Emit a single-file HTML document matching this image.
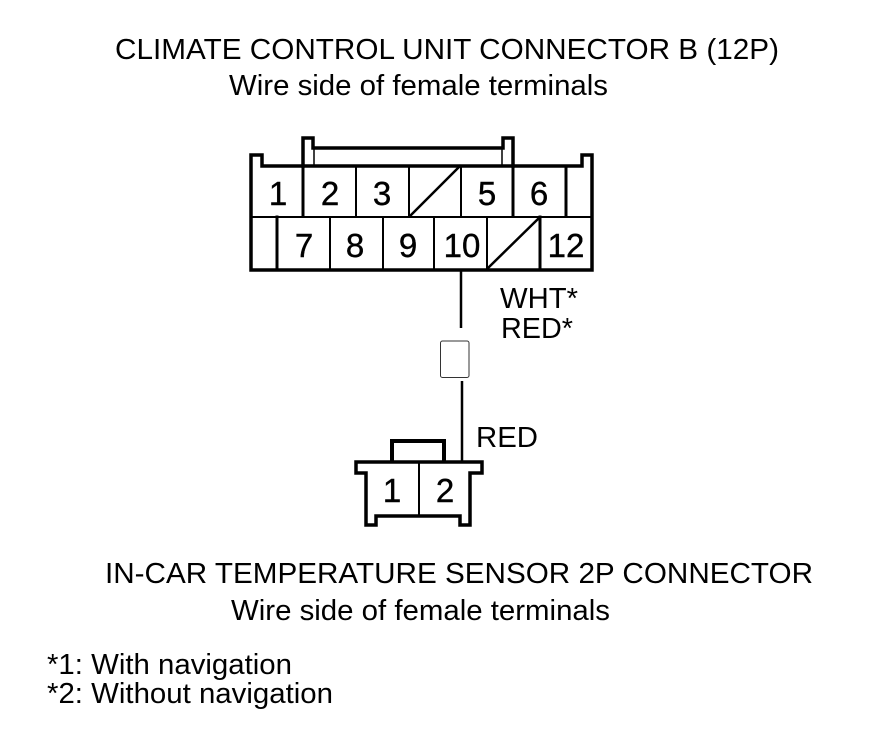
<!DOCTYPE html>
<html>
<head>
<meta charset="utf-8">
<style>
html,body{margin:0;padding:0;background:#fff;width:880px;height:736px;overflow:hidden}
svg{display:block}
text{font-family:"Liberation Sans",Arial,sans-serif;fill:#000}
</style>
</head>
<body>
<svg width="880" height="736" viewBox="0 0 880 736" xmlns="http://www.w3.org/2000/svg">
<g fill="none" stroke="#000" stroke-linecap="square">
  <!-- top connector outline -->
  <path d="M251 155H262V166H582V155H592V270H251Z" stroke-width="3.500"/>
  <path d="M303 166V138H313V148H503V138H513V166" stroke-width="3.500"/>
  <path d="M314 150V165M502 150V165" stroke-width="1.500"/>
  <path d="M252 217H591" stroke-width="2"/>
  <path d="M303 166V216M513 166V216" stroke-width="3"/>
  <path d="M356 166V216M409 166V216M461 166V216" stroke-width="2"/>
  <path d="M566 166V216" stroke-width="3"/>
  <path d="M277 217V268" stroke-width="3"/>
  <path d="M330 217V268M383 217V268M434 217V268M487 217V268" stroke-width="2"/>
  <path d="M540 217V268" stroke-width="3"/>
  <path d="M410 216L460 166M488 268L539 218" stroke-width="2.500"/>
  <!-- wire -->
  <path d="M461 270V328" stroke-width="2.500" stroke-linecap="butt"/>
  <rect x="440.500" y="341" width="28.500" height="36.500" rx="2" stroke="#333" stroke-width="1"/>
  <path d="M462 381V461" stroke-width="2.500" stroke-linecap="butt"/>
  <!-- bottom connector -->
  <path d="M392 461V441H444V461" stroke-width="4"/>
  <path d="M356 462H482V473H470V525H460V516H376V525H366V473H356Z" stroke-width="3.500"/>
  <path d="M419 462V515" stroke-width="2"/>
</g>
<g font-size="33" text-anchor="middle" stroke="#000" stroke-width="0.400">
  <text x="278" y="205">1</text>
  <text x="330" y="205">2</text>
  <text x="382" y="205">3</text>
  <text x="487" y="205">5</text>
  <text x="539" y="205">6</text>
  <text x="304" y="257">7</text>
  <text x="355" y="257">8</text>
  <text x="408" y="257">9</text>
  <text x="462" y="257">10</text>
  <text x="566" y="257">12</text>
  <text x="392" y="502">1</text>
  <text x="445" y="502">2</text>
</g>
<g font-size="29">
  <text x="115" y="59" textLength="664" lengthAdjust="spacingAndGlyphs">CLIMATE CONTROL UNIT CONNECTOR B (12P)</text>
  <text x="229" y="95" textLength="379" lengthAdjust="spacingAndGlyphs">Wire side of female terminals</text>
  <text x="500" y="308" textLength="78" lengthAdjust="spacingAndGlyphs">WHT*</text>
  <text x="501" y="338" textLength="72" lengthAdjust="spacingAndGlyphs">RED*</text>
  <text x="476" y="447" textLength="62" lengthAdjust="spacingAndGlyphs">RED</text>
  <text x="105" y="583" textLength="708" lengthAdjust="spacingAndGlyphs">IN-CAR TEMPERATURE SENSOR 2P CONNECTOR</text>
  <text x="231" y="620" textLength="379" lengthAdjust="spacingAndGlyphs">Wire side of female terminals</text>
  <text x="47" y="674" textLength="245" lengthAdjust="spacingAndGlyphs">*1: With navigation</text>
  <text x="47" y="703" textLength="286" lengthAdjust="spacingAndGlyphs">*2: Without navigation</text>
</g>
</svg>
</body>
</html>
